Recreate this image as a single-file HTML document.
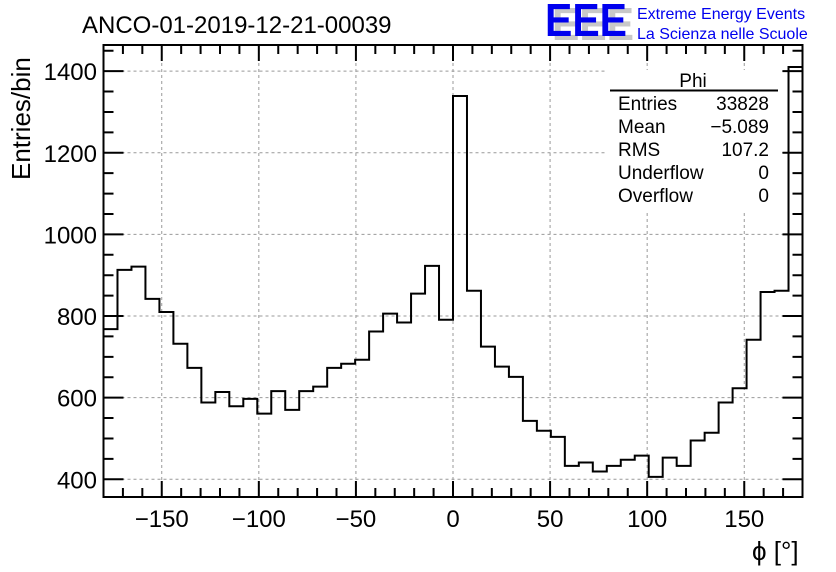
<!DOCTYPE html>
<html><head><meta charset="utf-8"><style>
body{margin:0;background:#fff;}
svg{display:block;font-family:"Liberation Sans",sans-serif;}
</style></head><body>
<svg id="chart" width="836" height="572">
<g id="grid"></g>
<g id="axes"></g>
<path id="hist" fill="none" stroke="#000" stroke-width="2"/>
<text x="82" y="33" font-size="24">ANCO-01-2019-12-21-00039</text>
<text x="752" y="560" font-size="26">ϕ [°]</text>
<text transform="translate(30,180) rotate(-90)" font-size="26">Entries/bin</text>
<g>
<text x="552" y="40" font-size="46" font-weight="bold" fill="#c8c8c8" textLength="82" lengthAdjust="spacingAndGlyphs">EEE</text>
<text x="545" y="36" font-size="46" font-weight="bold" fill="#0000ee" textLength="82" lengthAdjust="spacingAndGlyphs">EEE</text>
<text x="637" y="19" font-size="16" fill="#0000ee">Extreme Energy Events</text>
<text x="637" y="39" font-size="16" fill="#0000ee">La Scienza nelle Scuole</text>
</g>
<g font-size="19">
<rect x="606" y="70" width="176" height="140" fill="#fff"/>
<text x="693" y="87" text-anchor="middle">Phi</text>
<line x1="610" y1="90.5" x2="778" y2="90.5" stroke="#000" stroke-width="2"/>
<text x="618" y="110">Entries</text><text x="769" y="110" text-anchor="end">33828</text>
<text x="618" y="133">Mean</text><text x="769" y="133" text-anchor="end">−5.089</text>
<text x="618" y="156">RMS</text><text x="769" y="156" text-anchor="end">107.2</text>
<text x="618" y="179">Underflow</text><text x="769" y="179" text-anchor="end">0</text>
<text x="618" y="202">Overflow</text><text x="769" y="202" text-anchor="end">0</text>
</g>
</svg>
<script>
const binLow = -180;
const binWidth = 7.2;
const counts = [768,913,921,842,810,732,673,588,614,579,597,561,616,570,616,627,673,683,693,762,806,784,855,923,791,1339,862,725,676,651,543,519,504,433,441,419,433,448,458,406,453,433,495,514,588,623,742,859,862,1410];
const xTicks = [-150,-100,-50,0,50,100,150];
const xTickLabels = ["−150","−100","−50","0","50","100","150"];
const yTicks = [400,600,800,1000,1200,1400];
const yTickLabels = ["400","600","800","1000","1200","1400"];

const X0=103.5, X1=802.5, Y0=497, Y1=45;
const xmin=-180, xmax=180, ymin=356.6, ymax=1464;
const sx=v=>X0+(v-xmin)/(xmax-xmin)*(X1-X0);
const sy=v=>Y0-(v-ymin)/(ymax-ymin)*(Y0-Y1);
const NS="http://www.w3.org/2000/svg";
function mk(tag,attrs,parent){const e=document.createElementNS(NS,tag);for(const k in attrs)e.setAttribute(k,attrs[k]);parent.appendChild(e);return e;}
const grid=document.getElementById('grid'), axes=document.getElementById('axes');
xTicks.forEach((t,i)=>{
  const g=mk('line',{x1:sx(t),x2:sx(t),y1:Y1,y2:Y0,stroke:'#999','stroke-dasharray':'3,3'},grid);
  
  
  const l=mk('text',{x:sx(t),y:527,'text-anchor':'middle','font-size':24},axes);
  l.textContent=xTickLabels[i];
  
  
});
yTicks.forEach((t,i)=>{
  const g=mk('line',{x1:X0,x2:X1,y1:sy(t),y2:sy(t),stroke:'#999','stroke-dasharray':'3,3'},grid);
  
  
  const l=mk('text',{x:97,y:sy(t)+9,'text-anchor':'end','font-size':24},axes);
  l.textContent=yTickLabels[i];
  
  
});
let tk='';
for(let v=-170;v<=170;v+=10){const big=v%50===0;const L=big?16:9;const x=sx(v);
  tk+=`M${x},${Y0}V${Y0-L}M${x},${Y1}V${Y1+L}`;}
for(let v=400;v<=1450;v+=50){const big=v%200===0;const L=big?20:10;const y=sy(v);
  tk+=`M${X0},${y}H${X0+L}M${X1},${y}H${X1-L}`;}
const ticks=mk('path',{d:tk,stroke:'#000','stroke-width':2,fill:'none'},axes);


const frame=mk('rect',{x:X0,y:Y1,width:X1-X0,height:Y0-Y1,fill:'none',stroke:'#000','stroke-width':2},axes);


let d=`M${sx(binLow)},${sy(counts[0])}`;
counts.forEach((c,i)=>{
  const a=binLow+i*binWidth,b=a+binWidth;
  d+=`L${sx(a)},${sy(c)}L${sx(b)},${sy(c)}`;
});
document.getElementById('hist').setAttribute('d',d);
</script>
</body></html>
